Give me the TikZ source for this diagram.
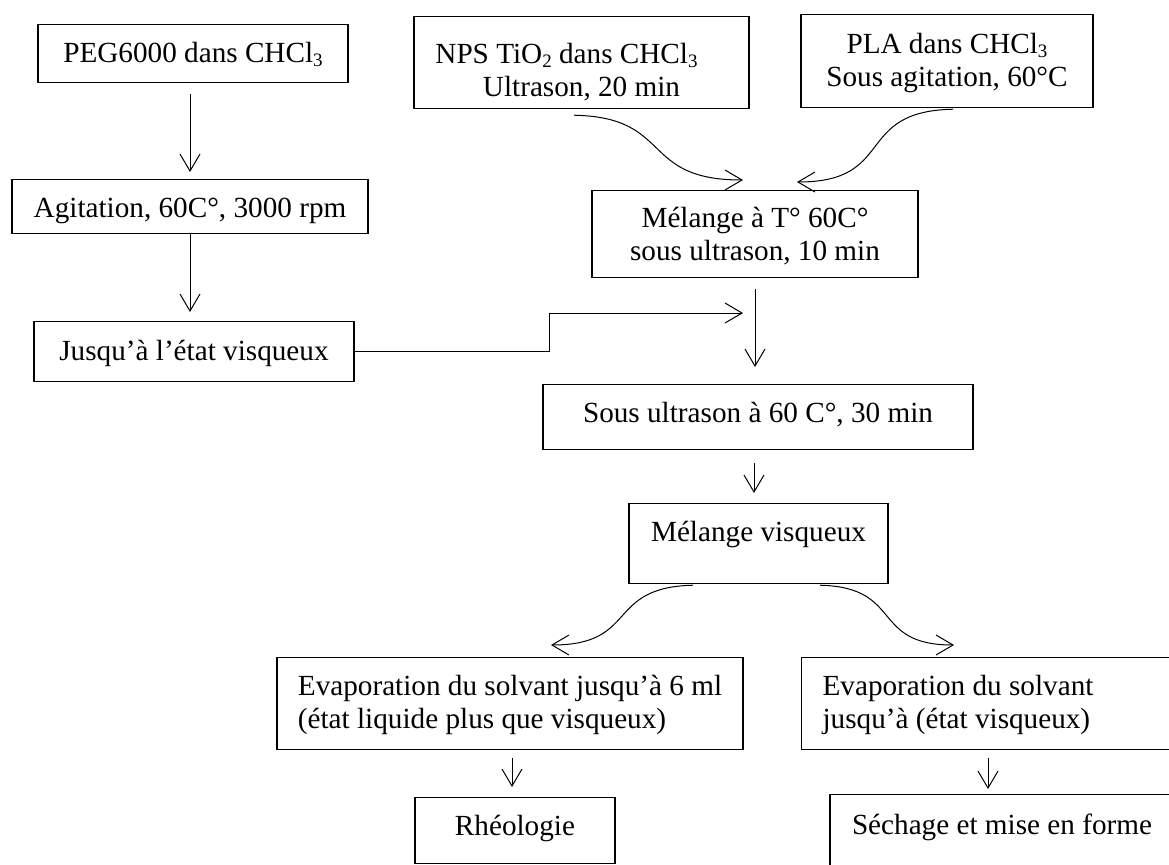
\documentclass[tikz,border=0pt]{standalone}
\usepackage{fontspec}
\setmainfont{Liberation Serif}
\usetikzlibrary{arrows.meta}
\newcommand\Taille{\fontsize{14.6}{16.5}\selectfont}
\newcommand\Ind[1]{\raisebox{-2pt}{\fontsize{9.5}{10}\selectfont #1}}
\newcommand\Lignes[2][c]{\begin{tabular}[t]{@{}#1@{}}#2\end{tabular}}
\tikzstyle{etape}=[rectangle,draw,line width=0.6pt,inner sep=0pt,anchor=north,
                   text height=19pt,font=\Taille]
\tikzstyle{fleche}=[-{Straight Barb[length=8.5pt,width=10pt]},line width=0.5pt]

\begin{document}
\begin{tikzpicture}[x=0.5pt,y=-0.5pt]
  \clip (0,0) rectangle (1169,864);
  % colonne PEG
  \node[etape,minimum width=155pt,text depth=10pt] (peg) at (193,24) {PEG6000 dans CHCl\Ind{3}};
  \node[etape,minimum width=178pt,text depth=8pt] (agit) at (190,179) {Agitation, 60C°, 3000 rpm};
  \node[etape,minimum width=160pt,text height=19.5pt,text depth=10.5pt] (jus) at (194,321) {Jusqu’à l’état visqueux};
  % colonne centrale
  \node[etape,minimum width=167.5pt,text height=23.5pt,text depth=22.5pt] (nps) at (581.5,16)
       {\Lignes{NPS TiO\Ind{2} dans CHCl\Ind{3}\hspace*{15pt}\\Ultrason, 20 min}};
  \node[etape,minimum width=146pt,text height=19.5pt,text depth=27pt] (pla) at (947,14)
       {\Lignes{PLA dans CHCl\Ind{3}\\Sous agitation, 60°C}};
  \node[etape,minimum width=163pt,text height=18.5pt,text depth=25pt] (mel) at (755,190)
       {\Lignes{Mélange à T° 60C°\\sous ultrason, 10 min}};
  \node[etape,minimum width=215pt,text depth=13.5pt] (sous) at (758,384) {Sous ultrason à 60 C°, 30 min};
  \node[etape,minimum width=129.5pt,text depth=21pt] (mv) at (758.5,503) {Mélange visqueux};
  % deux voies
  \node[etape,minimum width=233pt,text depth=27pt] (evg) at (510,657)
       {\Lignes[l]{Evaporation du solvant jusqu’à 6 ml\\(état liquide plus que visqueux)}};
  \node[etape,anchor=north west,inner xsep=10.5pt,text depth=27pt] (evd) at (801,657)
       {\Lignes[p{173.5pt}]{Evaporation du solvant\\jusqu’à (état visqueux)}};
  \node[etape,minimum width=100pt,text depth=14pt] (rheo) at (515,797) {Rhéologie};
  \node[etape,minimum width=172pt,text height=20pt,text depth=28pt] (sech) at (1002,794) {Séchage et mise en forme};

  \coordinate (coude) at (549,313);
  \coordinate (joint) at (743,313);

  % fleches
  \draw[fleche] ([yshift=-5.5pt]agit.north |- peg.south) -- ([yshift=3.5pt]agit.north);
  \draw[fleche] (agit.south) -- ([yshift=4.5pt]agit.south |- jus.north);
  \draw[fleche] (jus.east) -| (coude) -- (joint);
  \draw[fleche] ([xshift=-3.75pt,yshift=-3pt]nps.south) .. controls +(50pt,-1pt) and +(-52pt,0pt) .. ([xshift=-6pt,yshift=5pt]mel.north);
  \draw[fleche] ([xshift=3pt,yshift=-0.5pt]pla.south) .. controls +(-50pt,-1pt) and +(50pt,0pt) .. ([xshift=21pt,yshift=4pt]mel.north);
  \draw[fleche] ([yshift=-5.5pt]mel.south) -- ([yshift=8.5pt]mel.south |- sous.north);
  \draw[fleche] ([xshift=-2pt,yshift=-6.5pt]sous.south) -- ([xshift=-2pt,yshift=5pt]sous.south |- mv.north);
  \draw[fleche] ([xshift=-32.75pt,yshift=-0.5pt]mv.south) .. controls +(-44pt,-1pt) and +(44pt,0pt) .. ([xshift=20.5pt,yshift=6pt]evg.north);
  \draw[fleche] ([xshift=30.75pt,yshift=-0.5pt]mv.south) .. controls +(42pt,-1pt) and +(-42pt,0pt) .. ([xshift=76.5pt,yshift=6pt]evd.north west);
  \draw[fleche] ([xshift=-1.5pt,yshift=-4pt]rheo.north |- evg.south) -- ([xshift=-1.5pt,yshift=5pt]rheo.north);
  \draw[fleche] ([xshift=-7pt,yshift=-4pt]sech.north |- evd.south) -- ([xshift=-7pt,yshift=2.5pt]sech.north);
\end{tikzpicture}
\end{document}
